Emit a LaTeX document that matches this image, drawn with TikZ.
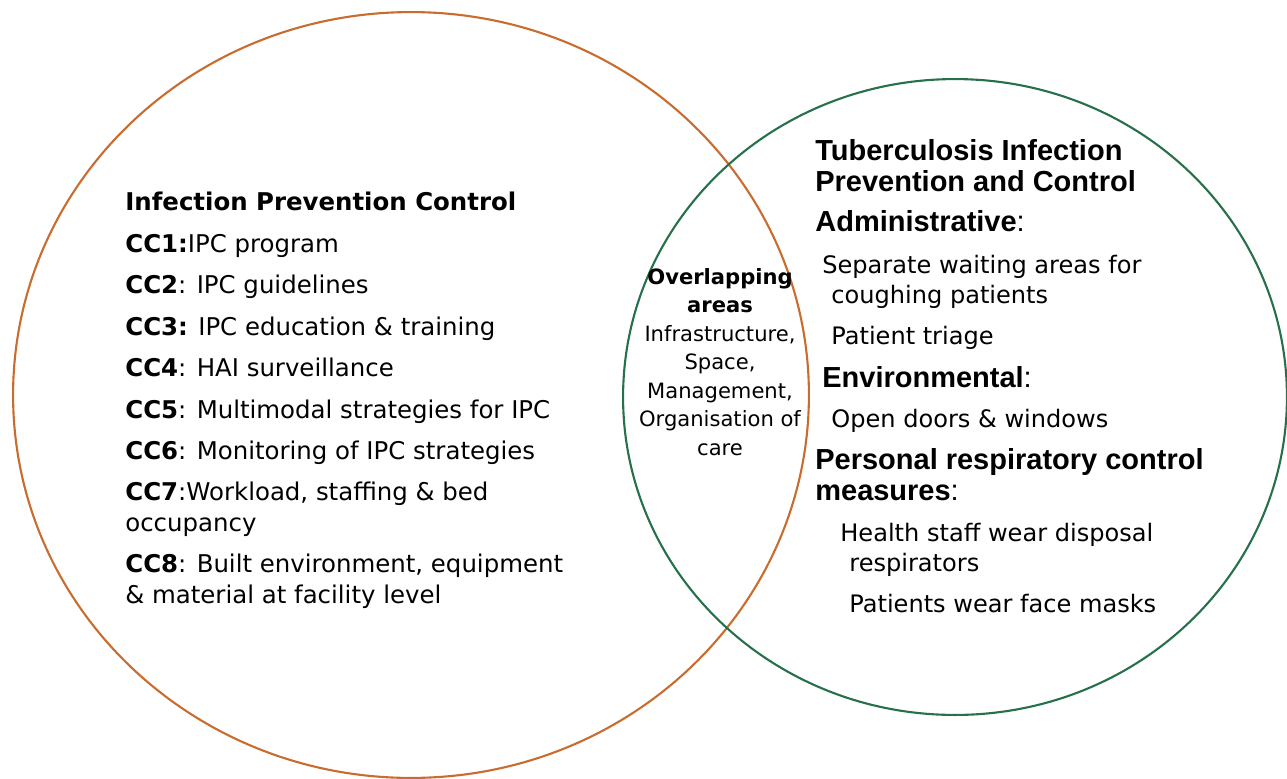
\documentclass[tikz,border=0pt]{standalone}
\usepackage{fontspec}
\setmainfont{DejaVu Sans}
\newfontfamily\arialfont{Liberation Sans}
\usepackage{xcolor}
\definecolor{ipcorange}{RGB}{200,108,48}
\definecolor{tbgreen}{RGB}{38,112,74}
\usetikzlibrary{positioning}

\begin{document}
\begin{tikzpicture}[x=0.02cm, y=-0.02cm,
	ipctext/.style={anchor=base west, inner sep=0pt, align=left, font=\fontsize{13.9}{17.1}\selectfont},
	tbhead/.style={anchor=base west, inner sep=0pt, align=left, font=\arialfont\bfseries\fontsize{16.5}{17.1}\selectfont},
	tbtext/.style={anchor=base west, inner sep=0pt, font=\fontsize{13.7}{17.1}\selectfont},
	overlap/.style={anchor=base, inner sep=0pt, align=center, font=\fontsize{12}{16.2}\selectfont}]
	\useasboundingbox (0,0) rectangle (1287,778);
	\clip (0,0) rectangle (1287,778);
	
	%circles
	\draw[ipcorange, line width=1.2pt] (411,395) ellipse [x radius=7.96cm, y radius=7.66cm];
	\draw[tbgreen, line width=1.2pt] (955,397) ellipse [x radius=6.64cm, y radius=6.36cm];
	
	%left circle (base of last line)
	\node[ipctext] (ipc) at (125,210) {\textbf{Infection Prevention Control}};
	\node[ipctext] (cc1) at (125,252) {\textbf{CC1:}IPC program};
	\node[ipctext] (cc2) at (125,293) {\textbf{CC2}: IPC guidelines};
	\node[ipctext] (cc3) at (125,335) {\textbf{CC3:} IPC education \& training};
	\node[ipctext] (cc4) at (125,376) {\textbf{CC4}: HAI surveillance};
	\node[ipctext] (cc5) at (125,418) {\textbf{CC5}: Multimodal strategies for IPC};
	\node[ipctext] (cc6) at (125,459) {\textbf{CC6}: Monitoring of IPC strategies};
	\node[ipctext] (cc7) at (125,531) {\textbf{CC7}:Workload, staffing \& bed\\occupancy};
	\node[ipctext] (cc8) at (125,603) {\textbf{CC8}: Built environment, equipment\\\& material at facility level};
	
	%overlap
	\node[overlap] (ovl) at (720,455) {\textbf{Overlapping}\\\textbf{areas}\\Infrastructure,\\Space,\\Management,\\Organisation of\\care};
	
	%right circle
	\node[tbhead] (tb) at (815,191) {Tuberculosis Infection\\Prevention and Control};
	\node[tbhead] (adm) at (815,231) {Administrative\textmd{:}};
	\node[tbtext] (wait) at (822,273) {Separate waiting areas for};
	\node[tbtext] (cough) at (831,303) {coughing patients};
	\node[tbtext] (triage) at (831,344) {Patient triage};
	\node[tbhead] (env) at (822,387) {Environmental\textmd{:}};
	\node[tbtext] (doors) at (831,427) {Open doors \& windows};
	\node[tbhead] (pers) at (815,500) {Personal respiratory control\\measures\textmd{:}};
	\node[tbtext] (staff) at (840,541) {Health staff wear disposal};
	\node[tbtext] (resp) at (849,571) {respirators};
	\node[tbtext] (masks) at (849,612) {Patients wear face masks};
\end{tikzpicture}
\end{document}
